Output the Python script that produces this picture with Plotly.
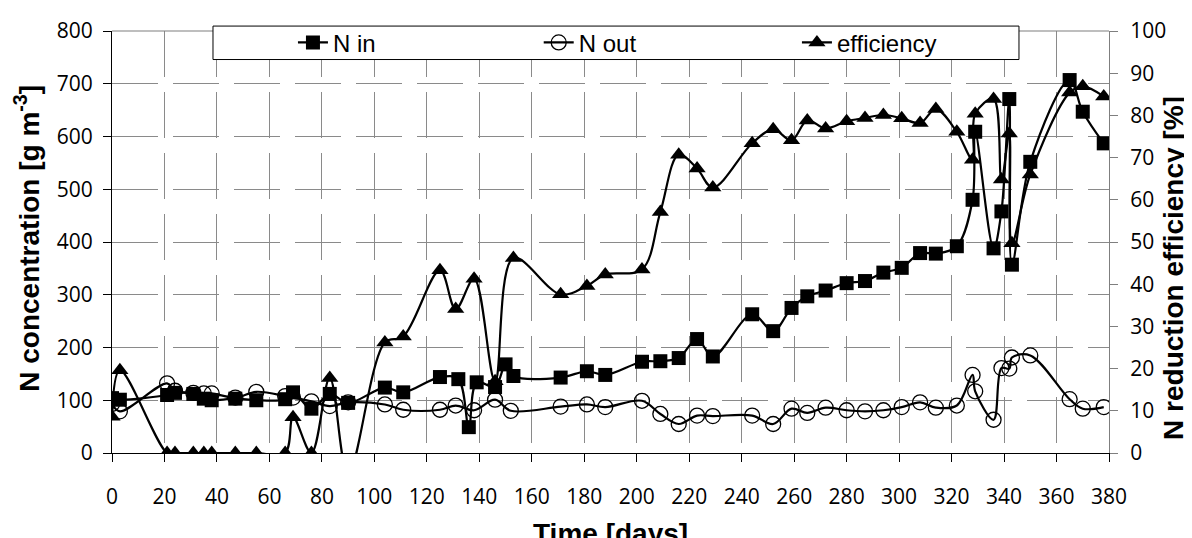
import plotly.graph_objects as go

# ---- data ----
day_in = [0, 3, 21, 24, 31, 35, 38, 47, 55, 66, 69, 76, 83, 90, 104, 111, 125, 132, 136, 139,
          146, 150, 153, 171, 181, 188, 202, 209, 216, 223, 229, 244, 252, 259, 265, 272, 280,
          287, 294, 301, 308, 314, 322, 328, 329, 336, 339, 342, 343, 350, 365, 370, 378]
n_in = [104, 101, 110, 114, 112, 103, 100, 103, 100, 102, 115, 84, 112, 95, 124, 115, 144, 140, 49, 134,
        125, 168, 146, 143, 155, 148, 173, 174, 180, 216, 183, 263, 231, 275, 297, 308, 322,
        326, 342, 351, 379, 378, 392, 480, 609, 388, 458, 671, 357, 552, 707, 647, 587]

day_out = [0, 3, 21, 24, 31, 35, 38, 47, 55, 66, 69, 76, 83, 90, 104, 111, 125, 131, 138,
           146, 152, 171, 181, 188, 202, 209, 216, 223, 229, 244, 252, 259, 265, 272, 280,
           287, 294, 301, 308, 314, 322, 328, 329, 336, 339, 342, 343, 350, 365, 370, 378]
n_out = [93, 79, 132, 118, 114, 113, 113, 105, 116, 108, 105, 98, 89, 96, 92, 82, 82, 90, 81,
         101, 80, 88, 92, 87, 99, 74, 55, 71, 70, 71, 55, 84, 76, 86, 81,
         79, 81, 87, 96, 86, 90, 148, 117, 63, 161, 160, 181, 185, 102, 84, 87]

day_eff = [0, 3, 21, 24, 31, 35, 38, 47, 55, 66, 69, 76, 83, 90, 104, 111, 125, 131, 138,
           146, 153, 171, 181, 188, 202, 209, 216, 223, 229, 244, 252, 259, 265, 272, 280,
           287, 294, 301, 308, 314, 322, 328, 329, 336, 339, 342, 343, 350, 365, 370, 378]
eff = [8.6, 19.6, 0, 0, 0, 0, 0, 0, 0, 0, 8.5, 0, 17.8, -5, 26.2, 27.6, 43.3, 34.1, 41.3,
       17, 46.2, 37.6, 39.6, 42.3, 43.5, 57.1, 70.7, 67.4, 62.9, 73.4, 76.7, 74.1, 78.8, 76.9, 78.6,
       79.4, 80.1, 79.3, 78.2, 81.5, 76.1, 69.5, 80.4, 83.9, 64.8, 75.7, 49.7, 66, 85.4, 86.9, 84.5]

x_ticks = list(range(0, 381, 20))
y_ticks = list(range(0, 801, 100))
y2_ticks = list(range(0, 101, 10))

TICK_FONT = dict(family="Open Sans", size=21, color="black")
TITLE_FONT = dict(family="Liberation Sans", size=28, color="black", weight="bold")
LEG_FONT = dict(family="Liberation Sans", size=24, color="black")
GRID = "#8a8a8a"

fig = go.Figure()
line_style = dict(color="black", width=2.2, shape="spline", smoothing=1)

fig.add_trace(go.Scatter(
    x=day_in, y=n_in, name="N in", mode="lines+markers", line=line_style,
    marker=dict(symbol="square", size=14, color="black"), legend="legend"))
fig.add_trace(go.Scatter(
    x=day_out, y=n_out, name="N out", mode="lines+markers", line=line_style,
    marker=dict(symbol="circle-open", size=15, color="black", line=dict(width=1.3, color="black")),
    legend="legend2"))
fig.add_trace(go.Scatter(
    x=day_eff, y=eff, name="efficiency", mode="lines+markers", line=line_style, yaxis="y2",
    marker=dict(symbol="triangle-up", size=15, color="black"), legend="legend3"))

fig.update_layout(
    width=1192, height=538,
    margin=dict(l=104, r=91, t=16, b=93),
    paper_bgcolor="white", plot_bgcolor="white",
    xaxis=dict(
        range=[0, 380], tickvals=x_ticks, ticktext=[str(v) for v in x_ticks],
        showgrid=True, gridcolor=GRID, gridwidth=1, griddash="46px,15px",
        showline=True, linecolor="black", linewidth=1.2,
        ticks="outside", ticklen=8, tickcolor="black", tickwidth=1,
        tickfont=TICK_FONT, ticklabelstandoff=17, zeroline=False, automargin=False,
    ),
    yaxis=dict(
        range=[0, 800], tickvals=y_ticks, ticktext=[str(v) for v in y_ticks],
        showgrid=True, gridcolor=GRID, gridwidth=1, griddash="46px,15px",
        showline=True, linecolor="black", linewidth=1.2,
        ticks="outside", ticklen=8, tickcolor="black", tickwidth=1,
        tickfont=TICK_FONT, ticklabelstandoff=6, zeroline=False, automargin=False,
    ),
    yaxis2=dict(
        range=[0, 100], tickvals=y2_ticks, ticktext=[str(v) for v in y2_ticks],
        overlaying="y", side="right", showgrid=False, zeroline=False,
        showline=True, linecolor="#7f7f7f", linewidth=1.2,
        ticks="outside", ticklen=8, tickcolor="#7f7f7f", tickwidth=1,
        tickfont=TICK_FONT, ticklabelstandoff=8, automargin=False,
    ),
    legend=dict(x=0.1815, y=0.972, xanchor="left", yanchor="middle", orientation="h",
                bgcolor="rgba(0,0,0,0)", borderwidth=0, font=LEG_FONT),
    legend2=dict(x=0.428, y=0.972, xanchor="left", yanchor="middle", orientation="h",
                 bgcolor="rgba(0,0,0,0)", borderwidth=0, font=LEG_FONT),
    legend3=dict(x=0.687, y=0.972, xanchor="left", yanchor="middle", orientation="h",
                 bgcolor="rgba(0,0,0,0)", borderwidth=0, font=LEG_FONT),
    shapes=[
        dict(type="line", xref="paper", yref="paper", x0=0, x1=1, y0=1, y1=1,
             line=dict(color="#7f7f7f", width=1.2), layer="above"),
        dict(type="rect", xref="paper", yref="paper", x0=0.1013, x1=0.9097, y0=0.9324, y1=1.0117,
             line=dict(color="black", width=1), fillcolor="white", layer="above"),
    ],
    annotations=[
        dict(text="Time [days]", xref="paper", yref="paper", x=0.5, y=-0.190,
             xanchor="center", yanchor="middle", showarrow=False, font=TITLE_FONT),
        dict(text="N concentration [g m<sup>-3</sup>]", xref="paper", yref="paper",
             x=-0.0853, y=0.51, xanchor="center", yanchor="middle", textangle=-90,
             showarrow=False, font=TITLE_FONT),
        dict(text="N reduction efficiency [%]", xref="paper", yref="paper",
             x=1.0652, y=0.4386, xanchor="center", yanchor="middle", textangle=-90,
             showarrow=False, font=TITLE_FONT),
    ],
    showlegend=True,
)

fig.write_html("out.html")
